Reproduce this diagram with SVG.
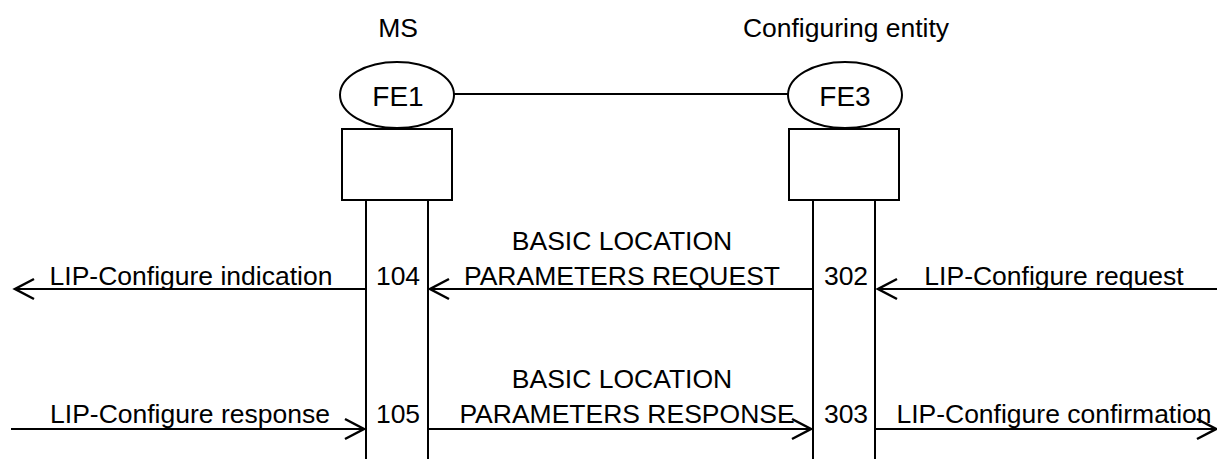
<svg xmlns="http://www.w3.org/2000/svg" width="1217" height="459" viewBox="0 0 1217 459">
<style>
text{font-family:"Liberation Sans",Arial,sans-serif;font-size:26.5px;fill:#000;text-anchor:middle}
text.fe{font-size:28px}
.s{fill:none;stroke:#000;stroke-width:2}
.w{fill:#fff;stroke:#000;stroke-width:2}
</style>
<defs>
<marker id="ah" markerUnits="userSpaceOnUse" orient="auto" refX="0" refY="0" markerWidth="30" markerHeight="30" overflow="visible">
<path d="M-19,-10 L0,0 L-19,10" fill="none" stroke="#000" stroke-width="2.5"/>
</marker>
</defs>
<rect width="1217" height="459" fill="#fff"/>
<g id="connectors">
<line class="s" x1="453" y1="94" x2="789" y2="94"/>
<line class="s" x1="366" y1="289" x2="15" y2="289" marker-end="url(#ah)"/>
<line class="s" x1="813" y1="289" x2="430" y2="289" marker-end="url(#ah)"/>
<line class="s" x1="1217" y1="289" x2="878" y2="289" marker-end="url(#ah)"/>
<line class="s" x1="11" y1="429" x2="364" y2="429" marker-end="url(#ah)"/>
<line class="s" x1="428" y1="429" x2="811" y2="429" marker-end="url(#ah)"/>
<line class="s" x1="875" y1="429" x2="1216" y2="429" marker-end="url(#ah)"/>
</g>
<g id="MS">
<text x="398" y="37">MS</text>
<ellipse class="w" cx="397" cy="95" rx="57" ry="33"/>
<text class="fe" x="398" y="106">FE1</text>
<rect class="w" x="342" y="129" width="110" height="71"/>
<line class="s" x1="366" y1="200" x2="366" y2="459"/>
<line class="s" x1="428" y1="200" x2="428" y2="459"/>
<text x="398" y="285">104</text>
<text x="398" y="423">105</text>
</g>
<g id="ConfiguringEntity">
<text x="846" y="37">Configuring entity</text>
<ellipse class="w" cx="845" cy="95" rx="57" ry="33"/>
<text class="fe" x="845" y="106">FE3</text>
<rect class="w" x="789" y="129" width="110" height="71"/>
<line class="s" x1="813" y1="200" x2="813" y2="459"/>
<line class="s" x1="875" y1="200" x2="875" y2="459"/>
<text x="846" y="285">302</text>
<text x="846" y="423">303</text>
</g>
<g id="labels">
<text x="191" y="285">LIP-Configure indication</text>
<text x="622" y="250">BASIC LOCATION</text>
<text x="622" y="285">PARAMETERS REQUEST</text>
<text x="1054" y="285">LIP-Configure request</text>
<text x="190" y="423">LIP-Configure response</text>
<text x="622" y="388">BASIC LOCATION</text>
<text x="627" y="423">PARAMETERS RESPONSE</text>
<text x="1054" y="423">LIP-Configure confirmation</text>
</g>
</svg>
